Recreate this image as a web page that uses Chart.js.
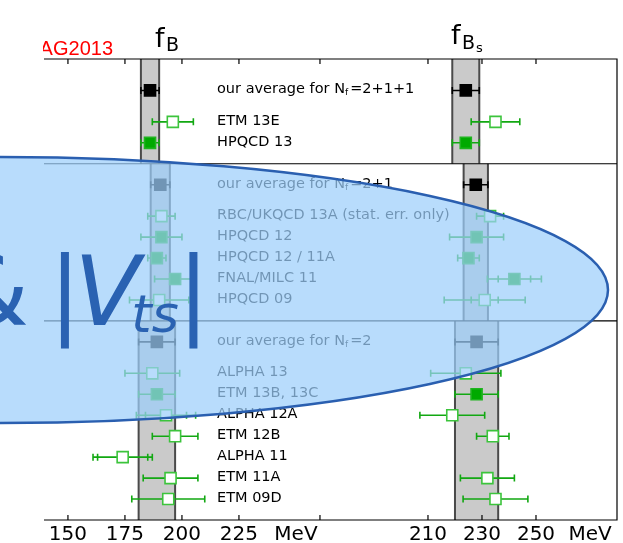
<!DOCTYPE html>
<html lang="en">
<head>
<meta charset="UTF-8">
<title>f_B and f_Bs - FLAG 2013</title>
<script src="https://cdn.jsdelivr.net/npm/chart.js"></script>
<style>
  * { margin: 0; padding: 0; box-sizing: border-box; }
  body { background: white; width: 623px; height: 543px; overflow: hidden; }
  canvas { display: block; }
</style>
</head>
<body>
<canvas id="flagChart" width="623" height="543"></canvas>
<script>
// one entry per row, top to bottom (y in row units, 0 = top of the frame)
const rowLabels = [
  'our average for N_f=2+1+1', 'ETM 13E', 'HPQCD 13',
  'our average for N_f=2+1', 'RBC/UKQCD 13A (stat. err. only)', 'HPQCD 12', 'HPQCD 12 / 11A', 'FNAL/MILC 11', 'HPQCD 09',
  'our average for N_f=2', 'ALPHA 13', 'ETM 13B, 13C', 'ALPHA 12A', 'ETM 12B', 'ALPHA 11', 'ETM 11A', 'ETM 09D'
];
const rowY = [1.5, 3, 4, 6, 7.5, 8.5, 9.5, 10.5, 11.5, 13.5, 15, 16, 17, 18, 19, 20, 21];
const rowKind = ['avg', 'open', 'filled', 'avg', 'open', 'filled', 'filled', 'filled', 'open',
                 'avg', 'open', 'filled', 'open', 'open', 'open', 'open', 'open'];

// f_B in MeV
const fB = [186, 196, 186, 190.5, 191, 191, 189, 197, 190, 189, 187, 189, 193, 197, 174, 195, 194];
const fBErr = [4, 9, 4, 4.2, 6, 9, 4, 9, 13, 8, 12, 8, 13, 10, 13, 12, 16];
const fBStatErr = [null, null, null, null, null, null, null, null, null, null, null, null, 9, null, 11, null, null];

// f_Bs in MeV
const fBs = [224, 235, 224, 227.7, 233, 228, 225, 242, 231, 228, 224, 228, 219, 234, null, 232, 235];
const fBsErr = [5, 9, 5, 4.5, 5, 10, 4, 10, 15, 8, 13, 8, 12, 6, null, 10, 12];
const fBsStatErr = [null, null, null, null, null, null, null, 6, 5, null, null, null, null, null, null, null, null];

// panels and the averages drawn as grey bands
const panelEdges = [0, 5, 12.5, 22];
const bandB = [186, 190.5, 189];
const bandBErr = [4, 4.2, 8];
const bandBs = [224, 227.7, 228];
const bandBsErr = [5, 4.5, 8];

// axis ticks
const ticksB = [150, 175, 200, 225];
const tickLabelsB = ['150', '175', '200', '225'];
const ticksBs = [170, 210, 230, 250];
const tickLabelsBs = ['', '210', '230', '250'];
const unitPosB = 250;
const unitPosBs = 270;

const colors = {
  avg:    { fill: '#000000', edge: '#000000', err: '#000000' },
  filled: { fill: '#00aa00', edge: '#1fb41f', err: '#12a812' },
  open:   { fill: '#ffffff', edge: '#3cc43c', err: '#12a812' }
};

function points(vals) {
  const pts = [];
  vals.forEach((v, i) => { if (v !== null) pts.push({ x: v, y: rowY[i], i: i }); });
  return pts;
}

function drawErrors(ctx, xs, ys, vals, errs, stats) {
  vals.forEach((v, i) => {
    if (v === null) return;
    const y = ys.getPixelForValue(rowY[i]);
    const lo = xs.getPixelForValue(v - errs[i]);
    const hi = xs.getPixelForValue(v + errs[i]);
    ctx.strokeStyle = colors[rowKind[i]].err;
    ctx.lineWidth = 1.6;
    ctx.beginPath();
    ctx.moveTo(lo, y); ctx.lineTo(hi, y);
    const caps = [lo, hi];
    if (stats[i] !== null) {
      caps.push(xs.getPixelForValue(v - stats[i]), xs.getPixelForValue(v + stats[i]));
    }
    caps.forEach(cx => { ctx.moveTo(cx, y - 3.5); ctx.lineTo(cx, y + 3.5); });
    ctx.stroke();
  });
}

function drawBands(ctx, xs, ys, centers, errs) {
  centers.forEach((c, p) => {
    const x0 = xs.getPixelForValue(c - errs[p]);
    const x1 = xs.getPixelForValue(c + errs[p]);
    const y0 = ys.getPixelForValue(panelEdges[p]);
    const y1 = ys.getPixelForValue(panelEdges[p + 1]);
    ctx.fillStyle = '#cacaca';
    ctx.fillRect(x0, y0, x1 - x0, y1 - y0);
    ctx.strokeStyle = '#4a4a4a';
    ctx.lineWidth = 2;
    ctx.beginPath();
    ctx.moveTo(x0, y0); ctx.lineTo(x0, y1);
    ctx.moveTo(x1, y0); ctx.lineTo(x1, y1);
    ctx.stroke();
  });
}

const flagPlugin = {
  id: 'flagPlugin',
  beforeDatasetsDraw(chart) {
    const { ctx, chartArea: a, scales } = chart;
    const ys = scales.y;
    ctx.save();
    drawBands(ctx, scales.xB, ys, bandB, bandBErr);
    drawBands(ctx, scales.xBs, ys, bandBs, bandBsErr);

    // frame (no left spine) and panel dividers
    ctx.strokeStyle = '#000';
    ctx.lineWidth = 1.6;
    ctx.beginPath();
    ctx.moveTo(a.left, a.top); ctx.lineTo(a.right, a.top);
    ctx.lineTo(a.right, a.bottom); ctx.lineTo(a.left, a.bottom);
    [panelEdges[1], panelEdges[2]].forEach(e => {
      const y = ys.getPixelForValue(e);
      ctx.moveTo(a.left, y); ctx.lineTo(a.right, y);
    });
    // inward ticks on top and bottom
    ctx.lineWidth = 1.2;
    const tickXs = ticksB.map(t => scales.xB.getPixelForValue(t))
      .concat(ticksBs.map(t => scales.xBs.getPixelForValue(t)));
    tickXs.forEach(x => {
      ctx.moveTo(x, a.top); ctx.lineTo(x, a.top + 5);
      ctx.moveTo(x, a.bottom); ctx.lineTo(x, a.bottom - 5);
    });
    ctx.stroke();

    drawErrors(ctx, scales.xB, ys, fB, fBErr, fBStatErr);
    drawErrors(ctx, scales.xBs, ys, fBs, fBsErr, fBsStatErr);
    ctx.restore();
  },
  afterDatasetsDraw(chart) {
    const { ctx, chartArea: a, scales } = chart;
    const ys = scales.y;
    ctx.save();
    ctx.fillStyle = '#000';

    // row labels
    const lx = 217;
    rowLabels.forEach((lab, i) => {
      const y = ys.getPixelForValue(rowY[i]) + 3;
      ctx.textAlign = 'left';
      ctx.textBaseline = 'alphabetic';
      ctx.font = '14.5px "DejaVu Sans"';
      if (lab.indexOf('N_f') >= 0) {
        const parts = lab.split('N_f');
        let x = lx;
        const head = parts[0] + 'N';
        ctx.fillText(head, x, y);
        x += ctx.measureText(head).width;
        ctx.font = '9px "DejaVu Sans"';
        ctx.fillText('f', x, y + 2);
        x += ctx.measureText('f').width + 2;
        ctx.font = '14.5px "DejaVu Sans"';
        ctx.fillText(parts[1], x, y);
      } else {
        ctx.fillText(lab, lx, y);
      }
    });

    // tick labels
    ctx.font = '20px "DejaVu Sans"';
    ctx.textAlign = 'center';
    const by = 540;
    ticksB.forEach((t, k) => ctx.fillText(tickLabelsB[k], scales.xB.getPixelForValue(t), by));
    ticksBs.forEach((t, k) => ctx.fillText(tickLabelsBs[k], scales.xBs.getPixelForValue(t), by));
    ctx.fillText('MeV', scales.xB.getPixelForValue(unitPosB), by);
    ctx.fillText('MeV', scales.xBs.getPixelForValue(unitPosBs), by);

    // panel titles
    ctx.textAlign = 'left';
    ctx.font = '27px "DejaVu Sans"';
    ctx.fillText('f', 155, 47);
    ctx.font = '19px "DejaVu Sans"';
    ctx.fillText('B', 166, 51);
    ctx.font = '27px "DejaVu Sans"';
    ctx.fillText('f', 451, 44);
    ctx.font = '19px "DejaVu Sans"';
    ctx.fillText('B', 462, 49);
    ctx.font = '13px "DejaVu Sans"';
    ctx.fillText('s', 476, 52);

    // FLAG tag, cut at the left edge of the frame
    ctx.beginPath();
    ctx.rect(a.left - 1, 0, 200, a.top);
    ctx.clip();
    ctx.fillStyle = '#ff0000';
    ctx.font = '20px "Liberation Sans"';
    ctx.textAlign = 'right';
    ctx.fillText('FLAG2013', 113, 55);
    ctx.restore();
  },
  afterDraw(chart) {
    const ctx = chart.ctx;
    ctx.save();
    // translucent ellipse laid over the plot
    ctx.beginPath();
    ctx.ellipse(0, 290, 608, 133, 0, 0, Math.PI * 2);
    ctx.fillStyle = 'rgba(156, 206, 251, 0.72)';
    ctx.fill();
    ctx.strokeStyle = '#2a5fb0';
    ctx.lineWidth = 2.5;
    ctx.stroke();

    ctx.fillStyle = '#2a62b2';
    ctx.textBaseline = 'alphabetic';
    ctx.font = '96px "DejaVu Sans"';
    ctx.textAlign = 'right';
    ctx.fillText('&', 29, 325);
    ctx.textAlign = 'center';
    ctx.fillText('|', 65, 325);
    ctx.fillText('|', 193.5, 325);
    ctx.font = 'italic 96px "DejaVu Sans"';
    ctx.fillText('V', 107, 325);
    ctx.font = 'italic 52px "DejaVu Sans"';
    ctx.fillText('ts', 155, 332);
    ctx.restore();
  }
};

new Chart(document.getElementById('flagChart'), {
  type: 'scatter',
  data: {
    datasets: [
      {
        label: 'f_B',
        xAxisID: 'xB',
        yAxisID: 'y',
        data: points(fB),
        pointStyle: 'rect',
        pointRadius: 7.8,
        pointBorderWidth: 1.6,
        pointBackgroundColor: c => colors[rowKind[c.raw.i]].fill,
        pointBorderColor: c => colors[rowKind[c.raw.i]].edge
      },
      {
        label: 'f_Bs',
        xAxisID: 'xBs',
        yAxisID: 'y',
        data: points(fBs),
        pointStyle: 'rect',
        pointRadius: 7.8,
        pointBorderWidth: 1.6,
        pointBackgroundColor: c => colors[rowKind[c.raw.i]].fill,
        pointBorderColor: c => colors[rowKind[c.raw.i]].edge
      }
    ]
  },
  options: {
    responsive: false,
    animation: false,
    devicePixelRatio: 1,
    layout: { autoPadding: false, padding: { left: 44, top: 59, right: 6, bottom: 23 } },
    scales: {
      xB: { type: 'linear', position: 'bottom', min: 139.5, max: 390.8, display: false },
      xBs: { type: 'linear', position: 'bottom', min: 67.8, max: 280, display: false },
      y: { type: 'linear', min: 0, max: 22, reverse: true, display: false }
    },
    plugins: {
      legend: { display: false },
      tooltip: { enabled: false }
    }
  },
  plugins: [flagPlugin]
});
</script>
</body>
</html>
